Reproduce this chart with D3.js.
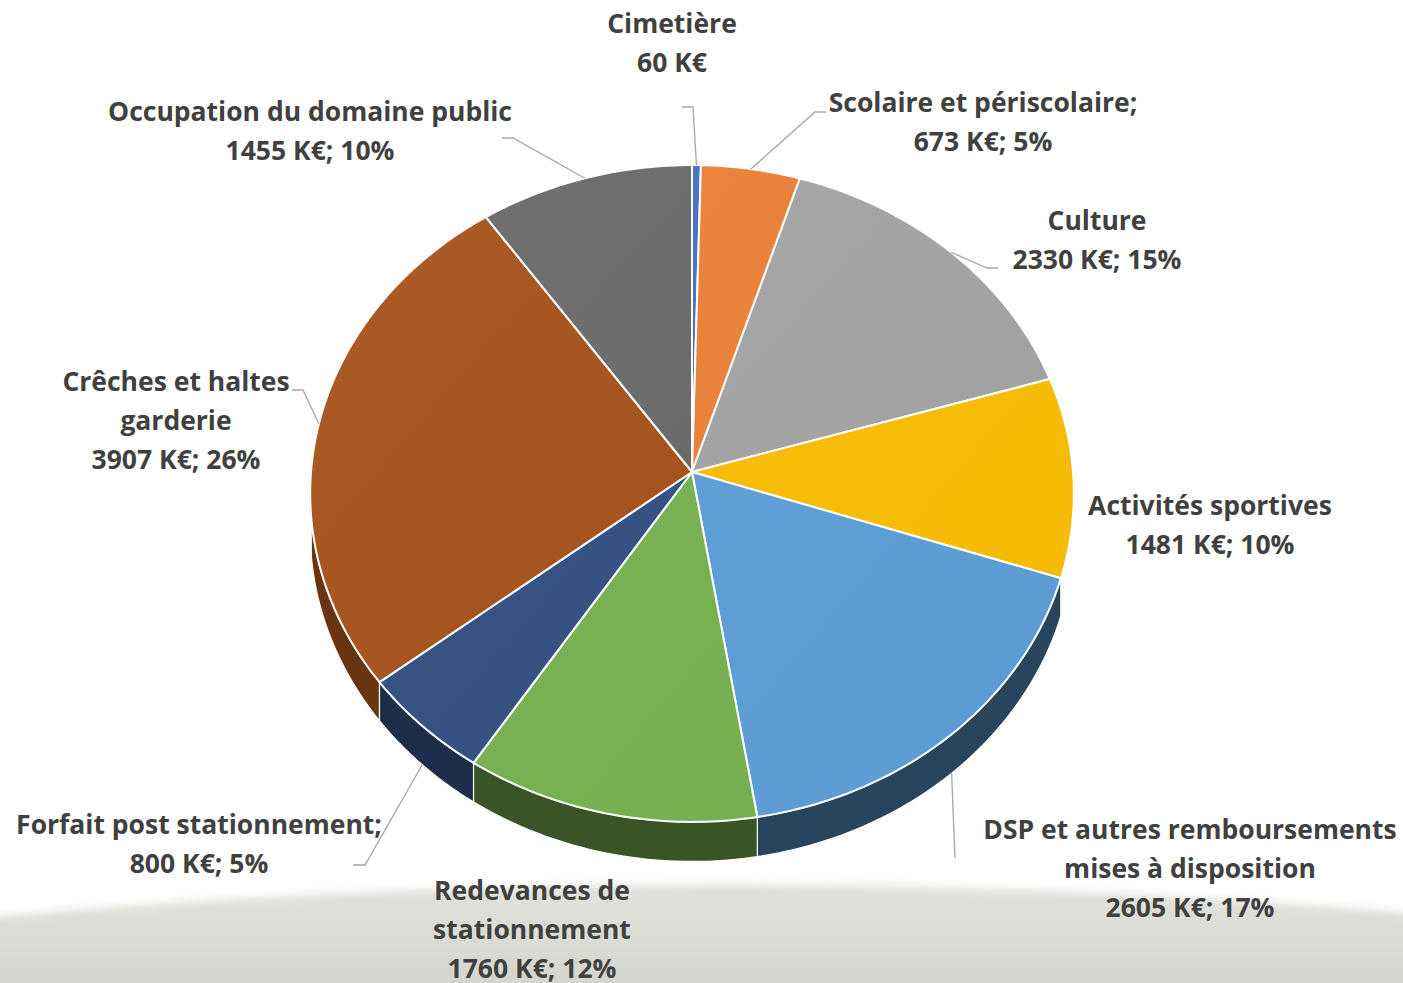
<!DOCTYPE html>
<html>
<head>
<meta charset="utf-8">
<script src="https://cdn.jsdelivr.net/npm/d3@7"></script>
<style>
  html, body { margin: 0; padding: 0; background: #fff; }
  svg { display: block; }
  .lbl { font-family: "Open Sans", Lato, sans-serif; font-weight: bold; font-size: 26.5px; fill: #404040; }
</style>
</head>
<body>
<svg id="chart" width="1403" height="983"></svg>
<script>
// data
const names = ['Cimetière', 'Scolaire et périscolaire', 'Culture', 'Activités sportives',
  'DSP et autres remboursements mises à disposition', 'Redevances de stationnement',
  'Forfait post stationnement', 'Crêches et haltes garderie', 'Occupation du domaine public'];
const values = [60, 673, 2330, 1481, 2605, 1760, 800, 3907, 1455];
const colors = ['#4472c4', '#ee8237', '#a6a6a6', '#fdc003', '#5fa0da', '#78b451', '#325083', '#a75219', '#6a6a6a'];
// label text lines (as in the original)
const labelLines = [
  ['Cimetière', '60 K€'],
  ['Scolaire et périscolaire;', '673 K€; 5%'],
  ['Culture', '2330 K€; 15%'],
  ['Activités sportives', '1481 K€; 10%'],
  ['DSP et autres remboursements', 'mises à disposition', '2605 K€; 17%'],
  ['Redevances de', 'stationnement', '1760 K€; 12%'],
  ['Forfait post stationnement;', '800 K€; 5%'],
  ['Crêches et haltes', 'garderie', '3907 K€; 26%'],
  ['Occupation du domaine public', '1455 K€; 10%']
];

// layout
const cx = 692, cy = 472, rx = 381, ry = 327, persp = 0.0654, depth = 37;
const labelPos = [[672, 23], [983, 102], [1097, 220], [1210, 505], [1190, 829], [532, 890], [199, 824], [176, 381], [310, 111]];
const lineGap = 39;
// elbow of leader lines (null = no leader)
const elbows = [
  [[682, 107], [693, 107]],
  [[826, 112], [815, 112]],
  [[998, 268], [987, 268]],
  null,
  [[955, 858]],
  null,
  [[353, 865], [365, 865]],
  [[292, 390], [303, 390]],
  [[502, 138], [513, 138]]
];

const svg = d3.select('#chart');
const defs = svg.append('defs');

// background band at the bottom
const bandGrad = defs.append('linearGradient').attr('id', 'band').attr('x1', 0).attr('y1', 0).attr('x2', 0).attr('y2', 1);
bandGrad.append('stop').attr('offset', 0).attr('stop-color', '#e2e2dd');
bandGrad.append('stop').attr('offset', 1).attr('stop-color', '#d4d4cd');
defs.append('filter').attr('id', 'soft').attr('x', -0.1).attr('y', -0.5).attr('width', 1.2).attr('height', 2)
  .append('feGaussianBlur').attr('stdDeviation', 4);
svg.append('path')
  .attr('d', 'M-20,918 Q700,852 1423,914 L1423,1000 L-20,1000 Z')
  .attr('fill', 'url(#band)')
  .attr('filter', 'url(#soft)');

// projection of the tilted disc
function proj(theta, drop) {
  const u = Math.sin(theta), v = -Math.cos(theta);
  const k = 1 / (1 - persp * v);
  return [cx + rx * u * k, cy + ry * v * k + (drop ? depth * k : 0)];
}

const pie = d3.pie().sort(null).value(d => d)(values);

// side walls (only the front part of the rim is seen)
const sideFrom = 108.6 * Math.PI / 180, sideTo = 262 * Math.PI / 180;
const sides = [];
pie.forEach((p, i) => {
  const a0 = Math.max(p.startAngle, sideFrom), a1 = Math.min(p.endAngle, sideTo);
  if (a1 <= a0) return;
  const top = d3.range(0, 41).map(j => proj(a0 + (a1 - a0) * j / 40, false));
  const bot = d3.range(40, -1, -1).map(j => proj(a0 + (a1 - a0) * j / 40, true));
  const mid = (a0 + a1) / 2;
  sides.push({ i, pts: top.concat(bot), u: Math.sin(mid), v: -Math.cos(mid) });
});
sides.sort((a, b) => a.v - b.v);
svg.append('g').selectAll('path')
  .data(sides).enter().append('path')
  .attr('d', d => 'M' + d.pts.map(p => p.join(',')).join('L') + 'Z')
  .attr('fill', d => {
    const c = d3.color(colors[d.i]);
    const f = 0.43 + 0.22 * Math.max(0, -d.u);
    return d3.rgb(c.r * f, c.g * f, c.b * f);
  })
  .attr('stroke', '#fff')
  .attr('stroke-width', 1.2)
  .attr('stroke-linejoin', 'round');

// top faces
const faceGrad = defs.append('linearGradient').attr('id', 'light')
  .attr('gradientUnits', 'userSpaceOnUse')
  .attr('x1', cx - rx).attr('y1', cy - ry).attr('x2', cx + rx).attr('y2', cy + ry);
faceGrad.append('stop').attr('offset', 0).attr('stop-color', '#fff').attr('stop-opacity', 0.06);
faceGrad.append('stop').attr('offset', 1).attr('stop-color', '#000').attr('stop-opacity', 0.03);

const faces = svg.append('g');
pie.forEach((p, i) => {
  const n = Math.max(4, Math.ceil((p.endAngle - p.startAngle) * 60));
  const pts = d3.range(0, n + 1).map(j => proj(p.startAngle + (p.endAngle - p.startAngle) * j / n, false));
  const d = 'M' + cx + ',' + cy + 'L' + pts.map(q => q.join(',')).join('L') + 'Z';
  faces.append('path').attr('d', d).attr('fill', colors[i]);
  faces.append('path').attr('d', d).attr('fill', 'url(#light)')
    .attr('stroke', '#fff').attr('stroke-width', 2).attr('stroke-linejoin', 'round');
});

// leader lines
const leaders = svg.append('g');
pie.forEach((p, i) => {
  if (!elbows[i]) return;
  const mid = (p.startAngle + p.endAngle) / 2;
  const front = -Math.cos(mid) > 0.3;
  const end = proj(mid, front);
  const pts = elbows[i].concat([end]);
  leaders.append('polyline')
    .attr('points', pts.map(q => q.join(',')).join(' '))
    .attr('fill', 'none')
    .attr('stroke', '#a6a6a6')
    .attr('stroke-width', 1.3);
});

// labels
const labels = svg.append('g');
labelLines.forEach((lines, i) => {
  const t = labels.append('text').attr('class', 'lbl').attr('text-anchor', 'middle');
  lines.forEach((s, j) => {
    t.append('tspan')
      .attr('x', labelPos[i][0])
      .attr('y', labelPos[i][1] + j * lineGap)
      .attr('dy', '0.36em')
      .text(s);
  });
});
</script>
</body>
</html>
